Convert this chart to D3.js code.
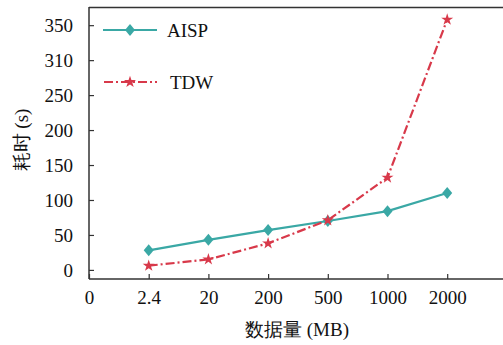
<!DOCTYPE html>
<html><head><meta charset="utf-8">
<script src="https://cdn.jsdelivr.net/npm/d3@7"></script>
<style>body{margin:0;background:#fff}svg{display:block}</style>
</head><body>
<script>
const categories = ["0", "2.4", "20", "200", "500", "1000", "2000"];
const dataCats = ["2.4", "20", "200", "500", "1000", "2000"];
const aispValues = [28, 43, 57, 70, 84, 110];
const tdwValues = [6, 15, 38, 71, 132, 358];
const yTickValues = [0, 50, 100, 150, 200, 250, 300, 350];
const yTickLabels = ["0", "50", "100", "150", "200", "250", "310", "350"];

(function () {
const W = 503, H = 345;
const mLeft = 89, mRight = 503, mTop = 7, mBottom = 279;
const teal = "#3aa8a5", red = "#d8394a";
const FONT = "Liberation Serif, DejaVu Serif, serif";
const FS = 19;

const svg = d3.select("body").append("svg").attr("width", W).attr("height", H)
  .style("font-family", FONT);

const x = d3.scalePoint().domain(categories).range([mLeft, mLeft + 59.7 * 6]);
const y = d3.scaleLinear().domain([-13, 376]).range([mBottom, mTop]);

svg.append("line").attr("x1", mLeft).attr("x2", mRight).attr("y1", mTop + 0.5).attr("y2", mTop + 0.5)
  .attr("stroke", "#333").attr("stroke-width", 1.5);

const xa = svg.append("g").attr("transform", `translate(0,${mBottom})`)
  .call(d3.axisBottom(x).tickSizeInner(-5).tickSizeOuter(0).tickPadding(12));
xa.attr("font-family", FONT).attr("font-size", FS);
xa.select(".domain").attr("d", `M${mLeft},0H${mRight}`).attr("stroke", "#333").attr("stroke-width", 1.5);
xa.selectAll(".tick line").attr("stroke", "#333").attr("stroke-width", 1.2);
xa.selectAll(".tick text").attr("font-family", FONT).style("font-family", FONT).attr("fill", "#111");

const ya = svg.append("g").attr("transform", `translate(${mLeft},0)`)
  .call(d3.axisLeft(y).tickValues(yTickValues).tickFormat((d, i) => yTickLabels[i])
    .tickSizeInner(-5).tickSizeOuter(0).tickPadding(16));
ya.attr("font-family", FONT).attr("font-size", FS);
ya.select(".domain").attr("d", `M0,${mTop}V${mBottom}`).attr("stroke", "#333").attr("stroke-width", 1.5);
ya.selectAll(".tick line").attr("stroke", "#333").attr("stroke-width", 1.2);
ya.selectAll(".tick text").attr("font-family", FONT).style("font-family", FONT).attr("fill", "#111");

svg.append("text").attr("x", 297).attr("y", 336).attr("text-anchor", "middle")
  .attr("font-family", FONT).attr("font-size", FS).attr("fill", "#111").text("数据量 (MB)");
svg.append("text").attr("transform", "translate(28,140) rotate(-90)").attr("text-anchor", "middle")
  .attr("font-family", FONT).attr("font-size", FS).attr("fill", "#111").text("耗时 (s)");

const line = d3.line().x(d => x(d.c)).y(d => y(d.v));
const aisp = dataCats.map((c, i) => ({c, v: aispValues[i]}));
const tdw = dataCats.map((c, i) => ({c, v: tdwValues[i]}));

svg.append("path").datum(aisp).attr("d", line).attr("fill", "none")
  .attr("stroke", teal).attr("stroke-width", 2.2);
svg.append("path").datum(tdw).attr("d", line).attr("fill", "none")
  .attr("stroke", red).attr("stroke-width", 2.2).attr("stroke-dasharray", "9,3,2,3");

const diamond = "M0,-6L5,0L0,6L-5,0Z";
const star = d3.symbol().type(d3.symbolStar).size(45)();

svg.selectAll(".da").data(aisp).join("path").attr("class", "da")
  .attr("transform", d => `translate(${x(d.c)},${y(d.v)})`).attr("d", diamond).attr("fill", teal);
svg.selectAll(".st").data(tdw).join("path").attr("class", "st")
  .attr("transform", d => `translate(${x(d.c)},${y(d.v)})`).attr("d", star).attr("fill", red);

const lg = svg.append("g");
lg.append("line").attr("x1", 103).attr("x2", 157).attr("y1", 30).attr("y2", 30)
  .attr("stroke", teal).attr("stroke-width", 2.2);
lg.append("path").attr("transform", "translate(130,30)").attr("d", diamond).attr("fill", teal);
lg.append("text").attr("x", 167).attr("y", 37).attr("font-family", FONT).attr("font-size", FS)
  .attr("fill", "#111").text("AISP");
lg.append("line").attr("x1", 104).attr("x2", 157).attr("y1", 82).attr("y2", 82)
  .attr("stroke", red).attr("stroke-width", 2.2).attr("stroke-dasharray", "9,3,2,3");
lg.append("path").attr("transform", "translate(130,82)").attr("d", star).attr("fill", red);
lg.append("text").attr("x", 170).attr("y", 89).attr("font-family", FONT).attr("font-size", FS)
  .attr("fill", "#111").text("TDW");
})();
</script>
</body></html>
